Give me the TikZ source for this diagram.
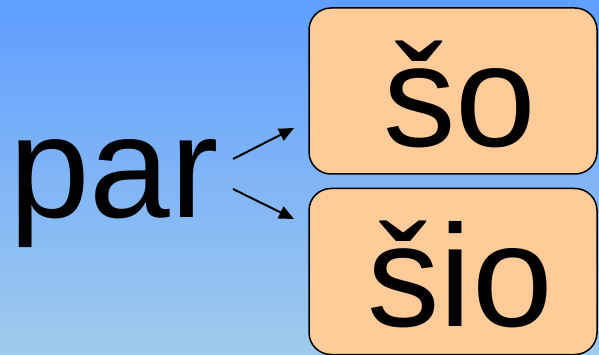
\documentclass[tikz,border=0pt]{standalone}
\usepackage{fontspec}
\setmainfont{Liberation Sans}
\usetikzlibrary{arrows.meta}
\definecolor{bgtop}{RGB}{95,158,255}
\definecolor{bgbot}{RGB}{160,203,237}
\definecolor{boxfill}{RGB}{255,204,153}
\tikzset{
  wordbox/.style={draw=black, line width=1.5pt, fill=boxfill, rounded corners=22pt, minimum width=288pt, minimum height=166pt, inner sep=0pt},
  bigword/.style={inner sep=0pt, font=\fontsize{145}{150}\selectfont},
  arr/.style={line width=2pt, -{Triangle[length=15pt,width=13pt]}}
}
\begin{document}
\begin{tikzpicture}[x=1pt,y=-1pt]
\useasboundingbox (0,0) rectangle (599,355);
\shade[top color=bgtop, bottom color=bgbot] (0,0) rectangle (599,355);
\node[wordbox] (topbox) at (453,91) {};
\node[wordbox] (botbox) at (453,271.5) {};
\node[bigword, anchor=base west] (par) at (9,218) {par};
\node[bigword, anchor=base] (so) at (460,147) {šo};
\node[bigword, anchor=base] (sio) at (460,326) {šio};
\coordinate (a1) at (233,159);
\coordinate (a2) at (294,128);
\coordinate (b1) at (233,189);
\coordinate (b2) at (294,219);
\draw[arr] (a1) -- (a2);
\draw[arr] (b1) -- (b2);
\end{tikzpicture}
\end{document}
